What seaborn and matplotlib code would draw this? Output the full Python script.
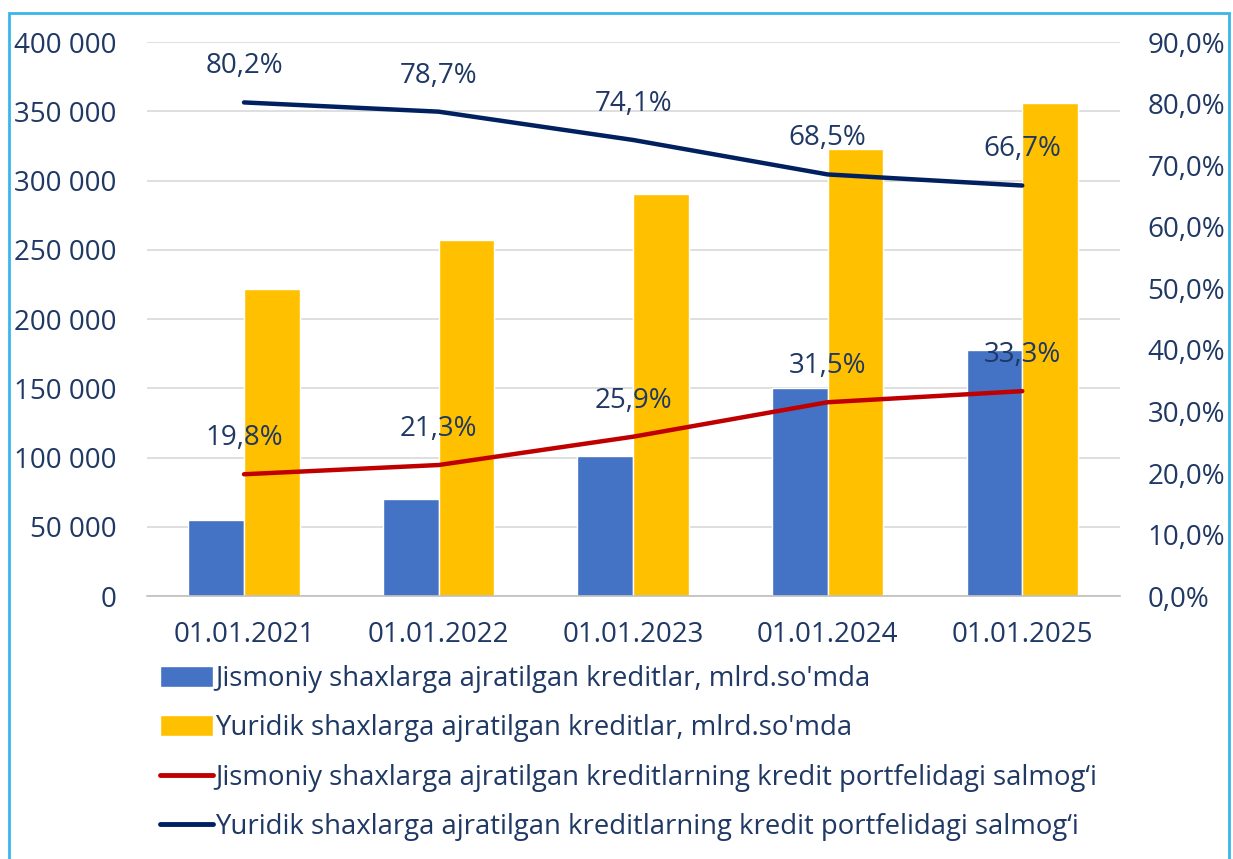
import pandas as pd
import matplotlib.pyplot as plt
import matplotlib.ticker as mticker
from matplotlib.patches import Patch, Rectangle
from matplotlib.lines import Line2D
import seaborn as sns

# Data
dates = ["01.01.2021", "01.01.2022", "01.01.2023", "01.01.2024", "01.01.2025"]
jismoniy_credit = [55000, 70000, 101000, 150000, 178000]
yuridik_credit = [222000, 257000, 290000, 323000, 356000]
jismoniy_share = [19.8, 21.3, 25.9, 31.5, 33.3]
yuridik_share = [80.2, 78.7, 74.1, 68.5, 66.7]

labels = [
    "Jismoniy shaxlarga ajratilgan kreditlar, mlrd.so'mda",
    "Yuridik shaxlarga ajratilgan kreditlar, mlrd.so'mda",
    "Jismoniy shaxlarga ajratilgan kreditlarning kredit portfelidagi salmog\u2018i",
    "Yuridik shaxlarga ajratilgan kreditlarning kredit portfelidagi salmog\u2018i",
]

# Colors
blue = "#4472C4"
yellow = "#FFC000"
red = "#C00000"
navy = "#002060"
text_color = "#1F3864"

sns.set_theme(style="white")
plt.rcParams["font.family"] = ["Open Sans", "DejaVu Sans"]

bars = pd.DataFrame({
    "date": dates * 2,
    "value": jismoniy_credit + yuridik_credit,
    "series": [labels[0]] * 5 + [labels[1]] * 5,
})

fig = plt.figure(figsize=(12.33, 8.59), dpi=100)
ax = fig.add_axes([0.119, 0.306, 0.789, 0.645])

sns.barplot(data=bars, x="date", y="value", hue="series",
            palette=[blue, yellow], width=0.572, gap=0,
            saturation=1, ax=ax, legend=False)

ax.set_ylim(0, 400000)
ax.set_xlim(-0.5, 4.5)
ax.yaxis.set_major_locator(mticker.MultipleLocator(50000))
ax.yaxis.set_major_formatter(mticker.FuncFormatter(
    lambda v, p: f"{int(v):,}".replace(",", " ")))
ax.grid(axis="y", color="#D9D9D9", linewidth=1.2)
ax.set_axisbelow(True)
ax.set_xlabel("")
ax.set_ylabel("")
for s in ["top", "left", "right"]:
    ax.spines[s].set_visible(False)
ax.spines["bottom"].set_color("#BFBFBF")
ax.spines["bottom"].set_linewidth(1.2)
ax.tick_params(axis="y", length=0, pad=22, labelsize=20, labelcolor=text_color)
ax.tick_params(axis="x", which="major", length=0, pad=18, labelsize=20,
               labelcolor=text_color)
ax.set_xticks([0.5, 1.5, 2.5, 3.5], minor=True)
ax.tick_params(axis="x", which="minor", length=8, color="#BFBFBF", width=1.2)

# Share lines on the secondary axis
ax2 = ax.twinx()
x_pos = list(range(len(dates)))
sns.lineplot(x=x_pos, y=jismoniy_share, color=red, linewidth=3.2, ax=ax2)
sns.lineplot(x=x_pos, y=yuridik_share, color=navy, linewidth=3.2, ax=ax2)
ax2.set_ylim(0, 90)
ax2.set_xlim(-0.5, 4.5)
ax2.yaxis.set_major_locator(mticker.MultipleLocator(10))
ax2.yaxis.set_major_formatter(mticker.FuncFormatter(
    lambda v, p: f"{v:.1f}%".replace(".", ",")))
ax2.tick_params(axis="y", length=0, pad=20, labelsize=20, labelcolor=text_color)
for s in ["top", "left", "right", "bottom"]:
    ax2.spines[s].set_visible(False)
ax2.grid(False)

for series in [jismoniy_share, yuridik_share]:
    for i, v in enumerate(series):
        ax2.annotate(f"{v:.1f}%".replace(".", ","), (i, v),
                     xytext=(0, 26), textcoords="offset points",
                     ha="center", va="center", fontsize=20, color=text_color)

handles = [
    Patch(facecolor=blue),
    Patch(facecolor=yellow),
    Line2D([0], [0], color=red, linewidth=3.5),
    Line2D([0], [0], color=navy, linewidth=3.5),
]
fig.legend(handles, labels, loc="upper left", bbox_to_anchor=(0.130, 0.226),
           frameon=False, fontsize=19.8, labelcolor=text_color,
           handlelength=1.9, handleheight=0.8, handletextpad=0.1,
           labelspacing=0.78, borderaxespad=0, borderpad=0)

# Light blue frame
fig.patches.append(Rectangle((0.007, -0.01), 0.99, 0.995, transform=fig.transFigure,
                             fill=False, edgecolor="#3BB5E8", linewidth=2))

fig.savefig("out.png", dpi=100)
